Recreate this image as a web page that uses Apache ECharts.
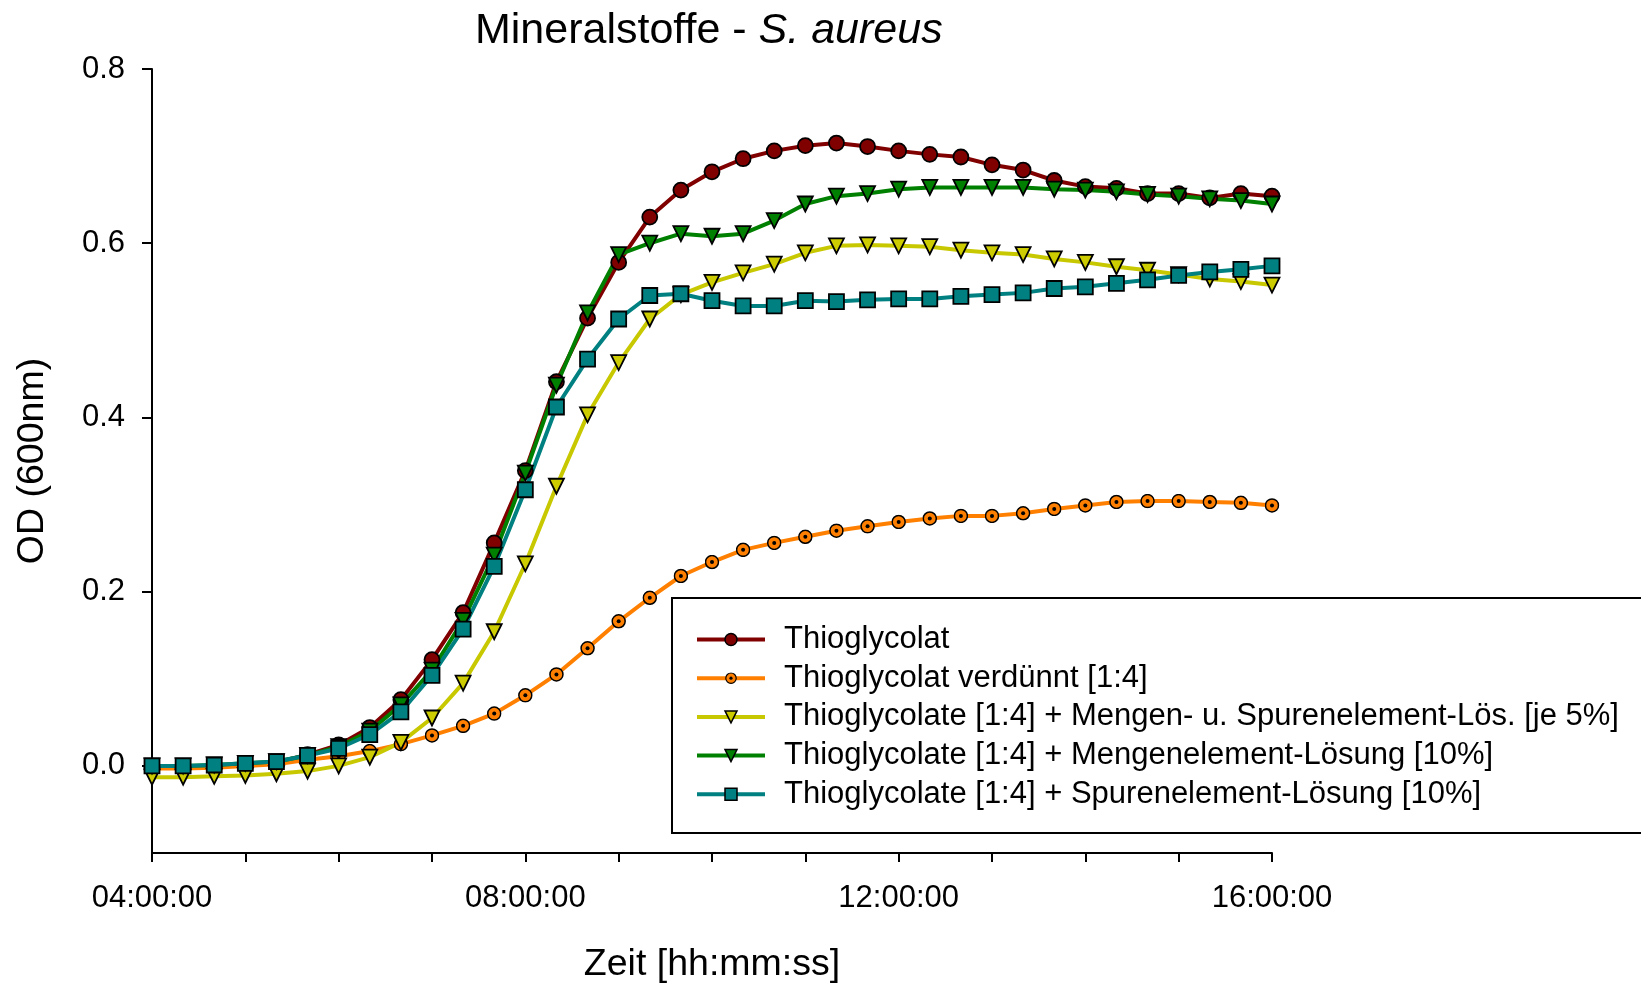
<!DOCTYPE html>
<html>
<head>
<meta charset="utf-8">
<script src="https://cdn.jsdelivr.net/npm/echarts@6/dist/echarts.min.js"></script>
<style>
  html, body { margin: 0; padding: 0; background: #fff; }
  #main { width: 1641px; height: 983px; }
</style>
</head>
<body>
<div id="main"></div>
<script>
// Zeitpunkte in Minuten (04:00:00 .. 16:00:00, alle 20 min)
var minutes = [240, 260, 280, 300, 320, 340, 360, 380, 400, 420, 440, 460, 480, 500, 520, 540, 560, 580, 600,
  620, 640, 660, 680, 700, 720, 740, 760, 780, 800, 820, 840, 860, 880, 900, 920, 940, 960];

var seriesNames = [
  'Thioglycolat',
  'Thioglycolat verdünnt [1:4]',
  'Thioglycolate [1:4] + Mengen- u. Spurenelement-Lös. [je 5%]',
  'Thioglycolate [1:4] + Mengenelement-Lösung [10%]',
  'Thioglycolate [1:4] + Spurenelement-Lösung [10%]'
];

var thio = [-0.002, -0.002, -0.001, 0.001, 0.004, 0.013, 0.024, 0.044, 0.076, 0.122, 0.176, 0.256, 0.339,
  0.441, 0.514, 0.578, 0.630, 0.661, 0.682, 0.697, 0.706, 0.712, 0.715, 0.711, 0.706, 0.702, 0.699,
  0.690, 0.684, 0.672, 0.665, 0.663, 0.657, 0.657, 0.652, 0.657, 0.654];
var thioVerd = [-0.003, -0.003, -0.002, 0.000, 0.002, 0.007, 0.011, 0.017, 0.025, 0.035, 0.046, 0.060, 0.081,
  0.105, 0.135, 0.166, 0.193, 0.218, 0.234, 0.248, 0.256, 0.263, 0.270, 0.275, 0.280, 0.284, 0.287,
  0.287, 0.290, 0.295, 0.299, 0.303, 0.304, 0.304, 0.303, 0.302, 0.299];
var mengenSpuren = [-0.013, -0.013, -0.012, -0.011, -0.009, -0.006, 0.000, 0.010, 0.027, 0.055, 0.095, 0.154, 0.232,
  0.321, 0.403, 0.463, 0.513, 0.541, 0.555, 0.566, 0.576, 0.589, 0.597, 0.598, 0.597, 0.596, 0.592,
  0.589, 0.587, 0.582, 0.578, 0.573, 0.569, 0.564, 0.559, 0.556, 0.552];
var mengen = [0.000, 0.000, 0.001, 0.003, 0.005, 0.012, 0.022, 0.040, 0.070, 0.110, 0.167, 0.242, 0.336,
  0.437, 0.520, 0.587, 0.600, 0.611, 0.608, 0.611, 0.626, 0.645, 0.654, 0.657, 0.662, 0.664, 0.664,
  0.664, 0.664, 0.662, 0.661, 0.659, 0.656, 0.654, 0.651, 0.649, 0.645];
var spuren = [0.000, 0.000, 0.001, 0.003, 0.005, 0.012, 0.020, 0.036, 0.062, 0.104, 0.157, 0.229, 0.317,
  0.412, 0.467, 0.513, 0.540, 0.542, 0.534, 0.528, 0.528, 0.534, 0.533, 0.535, 0.536, 0.536, 0.539,
  0.541, 0.543, 0.548, 0.550, 0.554, 0.558, 0.563, 0.567, 0.570, 0.574];

var yTicks = [0, 0.2, 0.4, 0.6, 0.8];

var font = 'Liberation Sans, Arial, sans-serif';

// Kreis mit Punkt fuer die verduennte Kurve
var dotCircle = 'image://data:image/svg+xml;charset=utf-8,' + encodeURIComponent(
  '<svg xmlns="http://www.w3.org/2000/svg" width="30" height="30">' +
  '<circle cx="15" cy="15" r="13" fill="#ff8000" stroke="#000" stroke-width="3"/>' +
  '<circle cx="15" cy="15" r="4" fill="#000"/></svg>');

function pairs(vals) {
  return vals.map(function (v, i) { return [minutes[i], v]; });
}

function fmtTime(v) {
  var h = Math.floor(v / 60);
  return (h < 10 ? '0' : '') + h + ':00:00';
}

function makeSeries(name, vals, color, fill, symbol, rotate) {
  return {
    name: name,
    type: 'line',
    data: pairs(vals),
    symbol: symbol,
    symbolSize: 15,
    symbolRotate: rotate || 0,
    lineStyle: { color: color, width: 4 },
    itemStyle: { color: fill, borderColor: '#000', borderWidth: 1.8 },
    emphasis: { disabled: true }
  };
}

var chartDom = document.getElementById('main');
var myChart = echarts.init(chartDom);
var option;

option = {
  animation: false,
  textStyle: { fontFamily: font },
  title: {
    text: '{n|Mineralstoffe - }{i|S. aureus}',
    left: 470,
    top: 5,
    textStyle: {
      rich: {
        n: { fontSize: 43, color: '#000', fontFamily: font, fontWeight: 'normal' },
        i: { fontSize: 43, color: '#000', fontFamily: font, fontWeight: 'normal', fontStyle: 'italic' }
      }
    }
  },
  grid: {
    left: 152,
    right: 369,
    top: 69,
    bottom: 130,
    outerBoundsMode: 'none'
  },
  legend: {
    orient: 'vertical',
    left: 690,
    top: 619,
    itemWidth: 68,
    itemHeight: 15,
    itemGap: 7.7,
    data: seriesNames,
    lineStyle: { width: 4 },
    itemStyle: { borderWidth: 1.5 },
    textStyle: {
      fontSize: 31,
      lineHeight: 31,
      color: '#000',
      fontFamily: font,
      padding: [0, 0, 0, 14]
    }
  },
  graphic: [{
    type: 'rect',
    shape: { x: 672, y: 598, width: 1000, height: 235 },
    style: { fill: null, stroke: '#000', lineWidth: 2 },
    z: 0
  }],
  xAxis: {
    type: 'value',
    min: 240,
    max: 960,
    interval: 60,
    name: 'Zeit [hh:mm:ss]',
    nameLocation: 'middle',
    nameGap: 93,
    nameTextStyle: { fontSize: 37.5, color: '#000', fontFamily: font },
    axisLine: { onZero: false, lineStyle: { color: '#000', width: 2 } },
    axisTick: { length: 9, lineStyle: { color: '#000', width: 2 } },
    axisLabel: {
      fontSize: 31,
      color: '#000',
      margin: 30,
      formatter: function (v) { return v % 240 === 0 ? fmtTime(v) : ''; }
    },
    splitLine: { show: false }
  },
  yAxis: {
    type: 'value',
    min: -0.1,
    max: 0.8,
    name: 'OD (600nm)',
    nameLocation: 'middle',
    nameGap: 100,
    nameTextStyle: { fontSize: 37.5, color: '#000', fontFamily: font },
    axisLine: { show: true, onZero: false, lineStyle: { color: '#000', width: 2 } },
    axisTick: { show: true, length: 10, customValues: yTicks, lineStyle: { color: '#000', width: 2 } },
    axisLabel: {
      fontSize: 31,
      color: '#000',
      margin: 27,
      customValues: yTicks,
      formatter: function (v) { return v.toFixed(1); }
    },
    splitLine: { show: false }
  },
  series: [
    makeSeries(seriesNames[0], thio, '#800000', '#800000', 'circle'),
    makeSeries(seriesNames[1], thioVerd, '#ff8000', '#ff8000', dotCircle),
    makeSeries(seriesNames[2], mengenSpuren, '#c8c800', '#cccc00', 'triangle', 180),
    makeSeries(seriesNames[3], mengen, '#008000', '#008000', 'triangle', 180),
    makeSeries(seriesNames[4], spuren, '#008080', '#008080', 'rect')
  ]
};

option && myChart.setOption(option);
window.addEventListener('resize', function () {
  myChart.resize();
});
</script>
</body>
</html>
